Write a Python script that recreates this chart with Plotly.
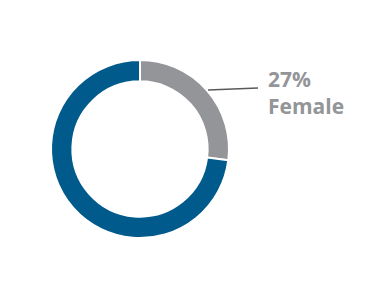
import plotly.graph_objects as go

labels = ["Female", "Male"]
values = [27, 73]
colors = ["#939598", "#005b8c"]

fig = go.Figure()
fig.add_trace(go.Pie(
    labels=labels, values=values, hole=0.76, sort=False, direction="clockwise",
    rotation=0, textinfo="none", hoverinfo="skip",
    marker=dict(colors=colors, line=dict(color="white", width=2)),
    domain=dict(x=[51/380, 229/380], y=[60/298, 238/298]),
    showlegend=False,
))

total = sum(values)
pct = round(values[0] / total * 100)
fig.add_annotation(
    x=266/380, y=1 - 63/298, xref="paper", yref="paper",
    xanchor="left", yanchor="top", align="left", showarrow=False,
    text=f"<b>{pct}%</b><br><b>{labels[0]}</b>",
    font=dict(family="Open Sans", size=21, color="#939598"),
)
fig.add_shape(type="line", xref="paper", yref="paper",
              x0=208/380, x1=258/380, y0=1 - 90/298, y1=1 - 88/298,
              line=dict(color="#58595b", width=1.5))

fig.update_layout(width=380, height=298, margin=dict(l=0, r=0, t=0, b=0),
                  paper_bgcolor="white", plot_bgcolor="white")
fig.write_html("out.html")
